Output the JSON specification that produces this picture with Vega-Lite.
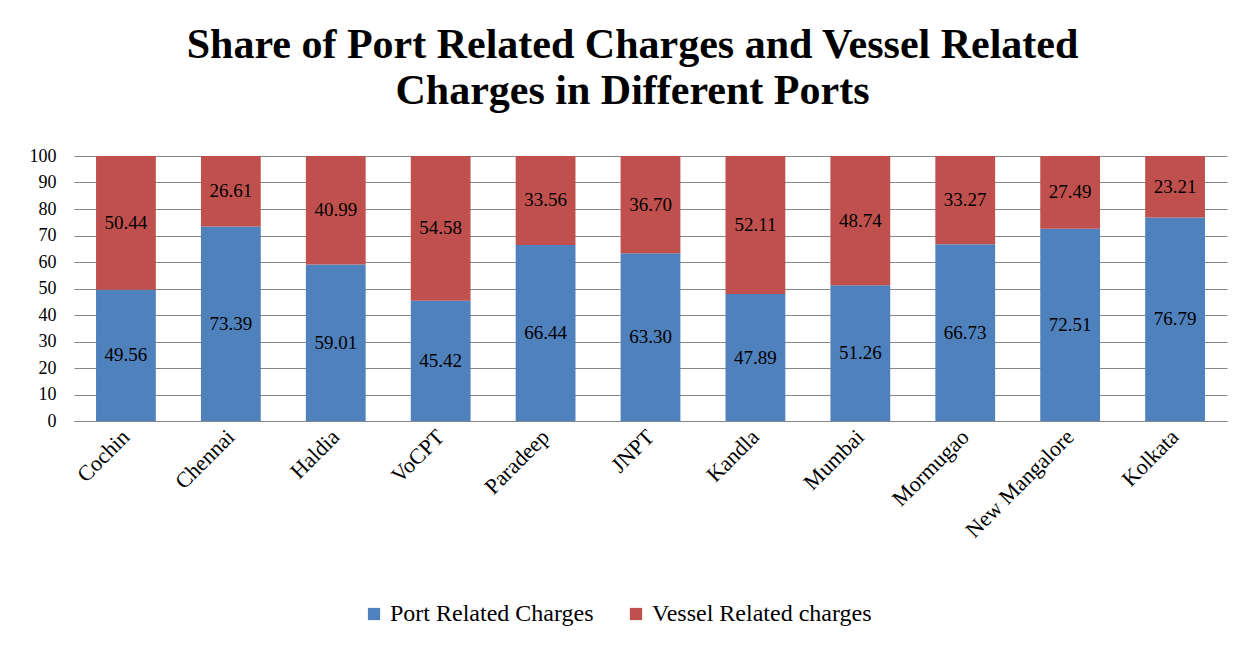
{
  "$schema": "https://vega.github.io/schema/vega-lite/v6.json",
  "autosize": {"type": "none"},
  "width": 1153,
  "height": 265,
  "padding": {"left": 74, "top": 156, "right": 28, "bottom": 228},
  "background": "white",
  "title": {
    "text": ["Share of  Port Related Charges and Vessel Related", "Charges in Different Ports"],
    "font": "Liberation Serif",
    "fontSize": 42,
    "fontWeight": "bold",
    "color": "#000000",
    "anchor": "middle",
    "dx": -18,
    "offset": 34,
    "lineHeight": 46
  },
  "data": {
    "values": [
      {"Port": "Cochin", "Series": "Port Related Charges", "Value": 49.56},
      {"Port": "Cochin", "Series": "Vessel Related charges", "Value": 50.44},
      {"Port": "Chennai", "Series": "Port Related Charges", "Value": 73.39},
      {"Port": "Chennai", "Series": "Vessel Related charges", "Value": 26.61},
      {"Port": "Haldia", "Series": "Port Related Charges", "Value": 59.01},
      {"Port": "Haldia", "Series": "Vessel Related charges", "Value": 40.99},
      {"Port": "VoCPT", "Series": "Port Related Charges", "Value": 45.42},
      {"Port": "VoCPT", "Series": "Vessel Related charges", "Value": 54.58},
      {"Port": "Paradeep", "Series": "Port Related Charges", "Value": 66.44},
      {"Port": "Paradeep", "Series": "Vessel Related charges", "Value": 33.56},
      {"Port": "JNPT", "Series": "Port Related Charges", "Value": 63.30},
      {"Port": "JNPT", "Series": "Vessel Related charges", "Value": 36.70},
      {"Port": "Kandla", "Series": "Port Related Charges", "Value": 47.89},
      {"Port": "Kandla", "Series": "Vessel Related charges", "Value": 52.11},
      {"Port": "Mumbai", "Series": "Port Related Charges", "Value": 51.26},
      {"Port": "Mumbai", "Series": "Vessel Related charges", "Value": 48.74},
      {"Port": "Mormugao", "Series": "Port Related Charges", "Value": 66.73},
      {"Port": "Mormugao", "Series": "Vessel Related charges", "Value": 33.27},
      {"Port": "New Mangalore", "Series": "Port Related Charges", "Value": 72.51},
      {"Port": "New Mangalore", "Series": "Vessel Related charges", "Value": 27.49},
      {"Port": "Kolkata", "Series": "Port Related Charges", "Value": 76.79},
      {"Port": "Kolkata", "Series": "Vessel Related charges", "Value": 23.21}
    ]
  },
  "transform": [
    {"stack": "Value", "groupby": ["Port"], "sort": [{"field": "Series", "order": "ascending"}], "as": ["v0", "v1"]},
    {"calculate": "(datum.v0 + datum.v1) / 2", "as": "vmid"}
  ],
  "encoding": {
    "x": {
      "field": "Port",
      "type": "nominal",
      "sort": null,
      "scale": {"paddingInner": 0.43, "paddingOuter": 0.21},
      "axis": {
        "title": null,
        "labelAngle": -45,
        "labelAlign": "right",
        "labelBaseline": "middle",
        "labelFont": "Liberation Serif",
        "labelFontSize": 22,
        "labelColor": "#000000",
        "labelPadding": 12,
        "ticks": false,
        "domainColor": "#868686",
        "domainWidth": 1
      }
    }
  },
  "layer": [
    {
      "mark": {"type": "bar"},
      "encoding": {
        "y": {
          "field": "v0",
          "type": "quantitative",
          "scale": {"domain": [0, 100], "nice": false},
          "axis": {
            "title": null,
            "values": [0, 10, 20, 30, 40, 50, 60, 70, 80, 90, 100],
            "labelOverlap": false,
            "labelFont": "Liberation Serif",
            "labelFontSize": 18,
            "labelColor": "#000000",
            "labelPadding": 18,
            "ticks": false,
            "domain": false,
            "grid": true,
            "gridColor": "#868686",
            "gridWidth": 1
          }
        },
        "y2": {"field": "v1"},
        "color": {
          "field": "Series",
          "type": "nominal",
          "scale": {"domain": ["Port Related Charges", "Vessel Related charges"], "range": ["#4F81BD", "#C0504D"]},
          "legend": {
            "title": null,
            "orient": "none",
            "direction": "horizontal",
            "legendX": 288,
            "legendY": 446,
            "symbolType": "square",
            "symbolSize": 150,
            "symbolStrokeWidth": 0,
            "labelFont": "Liberation Serif",
            "labelFontSize": 24,
            "labelColor": "#000000",
            "labelOffset": 4,
            "labelLimit": 400,
            "columnPadding": 30
          }
        }
      }
    },
    {
      "mark": {"type": "text", "font": "Liberation Serif", "fontSize": 19, "color": "#000000"},
      "encoding": {
        "y": {
          "field": "vmid",
          "type": "quantitative",
          "axis": {
            "title": null,
            "values": [0, 10, 20, 30, 40, 50, 60, 70, 80, 90, 100],
            "labelOverlap": false,
            "labelFont": "Liberation Serif",
            "labelFontSize": 18,
            "labelColor": "#000000",
            "labelPadding": 18,
            "ticks": false,
            "domain": false,
            "grid": true,
            "gridColor": "#868686",
            "gridWidth": 1
          }
        },
        "text": {"field": "Value", "type": "quantitative", "format": ".2f"}
      }
    }
  ],
  "config": {
    "view": {"stroke": null}
  }
}
